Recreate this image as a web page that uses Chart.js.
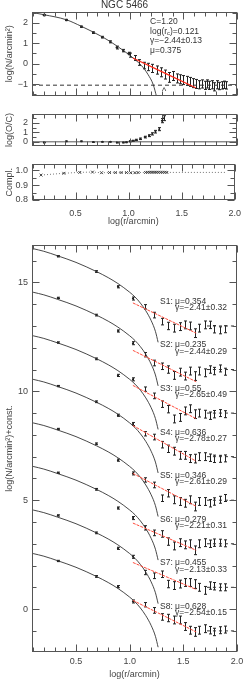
<!DOCTYPE html>
<html>
<head>
<meta charset="utf-8">
<title>NGC 5466</title>
<script src="https://cdn.jsdelivr.net/npm/chart.js@4.4.1/dist/chart.umd.min.js"></script>
<style>
  html, body { margin:0; padding:0; background:#fff; }
  #wrap { position:relative; width:249px; height:680px; overflow:hidden; }
  #wrap canvas { position:absolute; left:0; }
</style>
</head>
<body>
<div id="wrap">
  <canvas id="c_prof" width="249" height="105" style="top:0px"></canvas>
  <canvas id="c_oc" width="249" height="50" style="top:105px"></canvas>
  <canvas id="c_comp" width="249" height="72" style="top:155px"></canvas>
  <canvas id="c_sub" width="249" height="444" style="top:236px"></canvas>
</div>
<script>
// shared x axis: log(r/arcmin)
var X_MIN = 0.09, X_MAX = 2.0;
var xTicks = [0.5, 1.0, 1.5, 2.0];
var xTickLabels = ['0.5', '1.0', '1.5', '2.0'];

// ---- top panel: density profile of the whole cluster ----
var profTicks = [-1, 0, 1, 2];
var profTickLabels = ['\u22121', '0', '1', '2'];
var innerX   = [0.2, 0.41, 0.55, 0.66, 0.745, 0.82, 0.88, 0.94, 0.99];
var innerY   = [2.38, 2.14, 1.81, 1.52, 1.30, 1.07, 0.79, 0.64, 0.50];
var innerErr = [0.03, 0.03, 0.03, 0.04, 0.04, 0.05, 0.07, 0.06, 0.06];
var outerX   = [1.0, 1.05, 1.09, 1.13, 1.17, 1.21, 1.25, 1.29, 1.33, 1.37, 1.405, 1.44, 1.47, 1.5, 1.53,
                1.56, 1.59, 1.62, 1.65, 1.67, 1.7, 1.72, 1.74, 1.77, 1.79, 1.81, 1.83, 1.86, 1.88, 1.9];
var outerY   = [0.42, 0.28, 0.06, -0.09, -0.16, -0.23, -0.31, -0.42, -0.53, -0.67, -0.6, -0.72, -0.76, -0.8, -0.84,
                -0.89, -0.95, -0.99, -1.03, -0.99, -1.06, -0.99, -1.06, -1.03, -1.13, -1.03, -1.09, -1.06, -1.03, -1.06];
var outerErr = [0.1, 0.12, 0.14, 0.16, 0.18, 0.2, 0.2, 0.22, 0.22, 0.24, 0.22, 0.22, 0.22, 0.22, 0.22,
                0.22, 0.22, 0.22, 0.2, 0.2, 0.2, 0.2, 0.2, 0.2, 0.2, 0.2, 0.18, 0.18, 0.18, 0.18];
var kingTopX = [0.1, 0.2, 0.41, 0.55, 0.66, 0.75, 0.82, 0.88, 0.94, 1.0, 1.05, 1.11, 1.17, 1.22, 1.25];
var kingTopY = [2.5, 2.4, 2.15, 1.83, 1.55, 1.3, 1.08, 0.87, 0.65, 0.42, 0.2, -0.09, -0.52, -1.03, -1.6];
var fitTopX = [1.03, 1.615];
var fitTopY = [0.28, -1.18];
var bgTop = -1.05;
var rtTop = 1.32;

// ---- log(O/C) panel ----
var ocTicks = [0, 1, 2];
var ocTickLabels = ['0', '1', '2'];
var ocX   = [0.2, 0.41, 0.55, 0.66, 0.745, 0.82, 0.88, 0.94, 0.97, 1.0, 1.03, 1.06, 1.1, 1.14, 1.18, 1.21, 1.24, 1.275, 1.3, 1.32];
var ocY   = [-0.07, 0.05, 0.05, -0.03, 0.0, 0.0, -0.08, -0.07, -0.04, 0.05, 0.1, 0.2, 0.32, 0.5, 0.65, 0.84, 1.07, 1.34, 2.24, 2.5];
var ocErr = [0.03, 0.03, 0.03, 0.03, 0.03, 0.03, 0.04, 0.04, 0.05, 0.05, 0.06, 0.07, 0.08, 0.09, 0.1, 0.12, 0.14, 0.16, 0.22, 0.26];

// ---- completeness panel ----
var compTicks = [0.8, 0.9, 1.0];
var compTickLabels = ['0.8', '0.9', '1.0'];
var compX = [0.175, 0.39, 0.54, 0.66, 0.745, 0.82, 0.875, 0.93, 0.98, 1.02, 1.06, 1.09, 1.16, 1.18, 1.2,
             1.22, 1.24, 1.26, 1.28, 1.3, 1.32, 1.34, 1.36];
var compY = [0.968, 0.98, 0.986, 0.988, 0.984, 0.985, 0.985, 0.985, 0.985, 0.984, 0.984, 0.985, 0.986, 0.987, 0.987,
             0.987, 0.987, 0.987, 0.987, 0.987, 0.987, 0.987, 0.986];
var compEndX = 1.92, compEndY = 0.986;

// ---- lower panel: eight sub-samples, log(N)+const ----
var subTicks = [0, 5, 10, 15];
var subTickLabels = ['0', '5', '10', '15'];
var subNames  = ['S1', 'S2', 'S3', 'S4', 'S5', 'S6', 'S7', 'S8'];
var subMu     = ['0.354', '0.235', '0.55', '0.636', '0.346', '0.279', '0.455', '0.628'];
var subGamma  = ['\u22122.41\u00b10.32', '\u22122.44\u00b10.29', '\u22122.65\u00b10.49', '\u22122.78\u00b10.27',
                 '\u22122.61\u00b10.29', '\u22122.21\u00b10.31', '\u22122.13\u00b10.33', '\u22122.54\u00b10.15'];
var subConst  = [14, 12, 10, 8, 6, 4, 2, 0];
var subX   = [0.33, 0.69, 0.89, 1.03, 1.14, 1.23, 1.3, 1.36, 1.41, 1.47, 1.52, 1.56, 1.61, 1.65, 1.7, 1.75, 1.79, 1.84, 1.89];
var subErr = [0.03, 0.04, 0.05, 0.07, 0.1, 0.13, 0.15, 0.17, 0.18, 0.18, 0.18, 0.18, 0.2, 0.18, 0.18, 0.17, 0.17, 0.16, 0.16];
var subY = [
  [2.2, 1.5, 0.8, 0.26, -0.12, -0.5, -0.8, -1.0, -1.1, -1.03, -0.95, -1.0, -1.33, -1.1, -0.95, -0.95, -1.15, -1.2, -1.15],
  [2.29, 1.5, 0.77, 0.21, -0.32, -0.7, -0.85, -1.0, -1.27, -1.12, -1.3, -1.07, -1.3, -1.07, -1.15, -1.0, -1.07, -0.95, -1.1],
  [2.24, 1.49, 0.73, 0.55, 0.1, -0.21, -0.59, -0.82, -1.27, -1.2, -0.9, -0.8, -1.05, -1.0, -1.05, -1.12, -1.05, -1.0, -1.05],
  [2.24, 1.52, 0.9, 0.5, 0.05, -0.1, -0.45, -0.64, -0.75, -0.94, -0.94, -1.09, -1.09, -1.0, -1.0, -1.05, -1.1, -1.1, -1.08],
  [2.27, 1.59, 0.84, 0.23, -0.07, -0.3, -0.91, -0.68, -0.98, -1.06, -1.14, -0.98, -1.29, -1.06, -1.06, -1.14, -1.06, -0.98, -0.9],
  [2.26, 1.5, 0.64, 0.18, -0.27, -0.5, -0.55, -0.9, -1.1, -0.95, -1.05, -1.0, -1.3, -1.0, -0.95, -1.0, -0.95, -0.95, -0.98],
  [2.3, 1.5, 0.79, 0.4, -0.32, -0.47, -0.4, -0.85, -0.92, -0.85, -0.78, -0.78, -0.85, -1.0, -1.14, -0.92, -0.95, -1.0, -1.0],
  [2.21, 1.5, 1.03, 0.35, 0.2, -0.06, -0.36, -0.41, -0.5, -0.5, -0.8, -0.97, -1.05, -0.97, -0.9, -0.97, -1.05, -0.97, -0.94]
];
var subFitX = [1.03, 1.62];
var subFitY = [[0.06, -1.33], [-0.12, -1.56], [0.27, -1.26], [0.43, -1.21], [0.23, -1.28], [-0.05, -1.3], [0.14, -1.1], [0.4, -1.05]];
var kingX   = [0.1, 0.2, 0.33, 0.5, 0.69, 0.8, 0.89, 1.0, 1.05, 1.1, 1.15, 1.2, 1.24, 1.265];
var kingRel = [2.55, 2.43, 2.22, 1.92, 1.5, 1.22, 0.95, 0.55, 0.33, 0.05, -0.3, -0.75, -1.25, -1.75];
var subBg = -1.0;
var subBgX = [1.72, 1.99];

Chart.defaults.font.family = "'Liberation Sans', Arial, sans-serif";
Chart.defaults.font.size = 9;
Chart.defaults.color = '#444';
Chart.defaults.animation = false;

var FONT = "'Liberation Sans', Arial, sans-serif";

function pts(xs, ys, off){
  return xs.map(function(x, i){ return { x: x, y: ys[i] + (off || 0) }; });
}
function lineSet(data, color, width, dash){
  return { data: data, showLine: true, borderColor: color, borderWidth: width, borderDash: dash || [],
           pointRadius: 0, fill: false, cubicInterpolationMode: 'monotone' };
}
function pointSet(data, errs, r){
  return { data: data, showLine: false, pointRadius: r, pointStyle: 'circle',
           backgroundColor: '#222', borderColor: '#222', borderWidth: 0, errs: errs };
}

// frame + inward ticks on all four sides (IDL look)
var frame = {
  id: 'frame',
  afterDraw: function(chart, args, o){
    var ctx = chart.ctx, a = chart.chartArea, xs = chart.scales.x, ys = chart.scales.y;
    var L = Math.round(a.left) + 0.5, R = Math.round(a.right) - 0.5;
    var T = Math.round(a.top) + 0.5, B = Math.round(a.bottom) - 0.5;
    var i, v, p, len;
    ctx.save();
    ctx.strokeStyle = '#555';
    ctx.lineWidth = 1;
    ctx.strokeRect(L, T, R - L, B - T);
    ctx.beginPath();
    for(i = Math.ceil(xs.min / 0.1 - 1e-6); i * 0.1 <= xs.max + 1e-6; i++){
      p = Math.round(xs.getPixelForValue(i * 0.1)) + 0.5;
      len = (i % 5 === 0) ? 7 : 4;
      ctx.moveTo(p, B); ctx.lineTo(p, B - len);
      ctx.moveTo(p, T); ctx.lineTo(p, T + len);
    }
    for(i = Math.ceil(ys.min / o.minor - 1e-6); i * o.minor <= ys.max + 1e-6; i++){
      v = i * o.minor;
      p = Math.round(ys.getPixelForValue(v)) + 0.5;
      len = (Math.abs(v / o.major - Math.round(v / o.major)) < 1e-6) ? 7 : 4;
      ctx.moveTo(L, p); ctx.lineTo(L + len, p);
      ctx.moveTo(R, p); ctx.lineTo(R - len, p);
    }
    ctx.stroke();
    ctx.restore();
  }
};

// vertical error bars with small caps, taken from dataset.errs
var errorBars = {
  id: 'errorBars',
  beforeDatasetsDraw: function(chart){
    var ctx = chart.ctx, a = chart.chartArea, ys = chart.scales.y;
    ctx.save();
    ctx.beginPath();
    ctx.rect(a.left, a.top, a.right - a.left, a.bottom - a.top);
    ctx.clip();
    ctx.strokeStyle = '#222';
    ctx.lineWidth = 1;
    chart.data.datasets.forEach(function(ds, i){
      if(!ds.errs) return;
      var meta = chart.getDatasetMeta(i);
      meta.data.forEach(function(el, j){
        var v = ds.data[j].y, e = ds.errs[j];
        var x = Math.round(el.x) + 0.5;
        var y1 = ys.getPixelForValue(v + e), y2 = ys.getPixelForValue(v - e);
        ctx.beginPath();
        ctx.moveTo(x, y1); ctx.lineTo(x, y2);
        ctx.moveTo(x - 1.5, y1); ctx.lineTo(x + 1.5, y1);
        ctx.moveTo(x - 1.5, y2); ctx.lineTo(x + 1.5, y2);
        ctx.stroke();
      });
    });
    ctx.restore();
  }
};

// free text, placed in data units (or pixels with px/py)
var notes = {
  id: 'notes',
  afterDraw: function(chart, args, o){
    if(!o.items) return;
    var ctx = chart.ctx, xs = chart.scales.x, ys = chart.scales.y;
    ctx.save();
    ctx.fillStyle = '#333';
    ctx.textBaseline = 'middle';
    o.items.forEach(function(it){
      var x = it.px != null ? it.px : xs.getPixelForValue(it.x);
      var y = it.py != null ? it.py : ys.getPixelForValue(it.y);
      var size = it.size || 9;
      var parts = typeof it.text === 'string' ? [{ t: it.text }] : it.text;
      ctx.textAlign = it.align || 'left';
      parts.forEach(function(pt){
        var s = pt.sub ? size * 0.7 : size;
        ctx.font = s + 'px ' + FONT;
        ctx.fillText(pt.t, x, y + (pt.sub ? size * 0.3 : 0));
        x += ctx.measureText(pt.t).width;
      });
    });
    ctx.restore();
  }
};

function xScale(showLabels, h, pad){
  return {
    type: 'linear', min: X_MIN, max: X_MAX,
    grid: { display: false, drawTicks: false }, border: { display: false },
    afterBuildTicks: function(s){ s.ticks = xTicks.map(function(v){ return { value: v }; }); },
    ticks: { display: showLabels, padding: pad || 0, color: '#444', font: { size: 9 },
             maxRotation: 0, autoSkip: false,
             callback: function(v){ return xTickLabels[xTicks.indexOf(v)]; } },
    title: { display: showLabels, text: 'log(r/arcmin)', color: '#444', font: { size: 9 }, padding: { top: 2, bottom: 0 } },
    afterFit: function(s){ s.height = h; }
  };
}
function yScale(min, max, ticks, labels, title){
  return {
    type: 'linear', min: min, max: max,
    grid: { display: false, drawTicks: false }, border: { display: false },
    afterBuildTicks: function(s){ s.ticks = ticks.map(function(v){ return { value: v }; }); },
    ticks: { padding: 4, color: '#444', font: { size: 9 }, autoSkip: false,
             callback: function(v){ return labels[ticks.indexOf(v)]; } },
    title: { display: true, text: title, color: '#444', font: { size: 9 }, padding: { top: 4, bottom: 0 } },
    afterFit: function(s){ s.width = 32; }
  };
}
function baseOptions(scales, pad, frameOpts, noteItems){
  return {
    responsive: false, animation: false, events: [],
    layout: { padding: { left: 0, right: 12, top: pad.top, bottom: pad.bottom } },
    scales: scales,
    plugins: { legend: { display: false }, tooltip: { enabled: false }, title: { display: false },
               frame: frameOpts, notes: { items: noteItems || [] } }
  };
}

// --- top panel ---
new Chart(document.getElementById('c_prof'), {
  type: 'scatter',
  data: { datasets: [
    lineSet(pts(fitTopX, fitTopY), '#ff2a1a', 1.2),
    lineSet(pts(kingTopX, kingTopY), '#333', 0.9),
    lineSet([{ x: X_MIN, y: bgTop }, { x: X_MAX, y: bgTop }], '#333', 1, [4, 3]),
    pointSet(pts(innerX, innerY), innerErr, 1.2),
    pointSet(pts(outerX, outerY), outerErr, 0)
  ] },
  options: baseOptions(
    { x: xScale(false, 0), y: yScale(-1.56, 2.53, profTicks, profTickLabels, 'log(N/arcmin\u00b2)') },
    { top: 12, bottom: 0 },
    { major: 1, minor: 0.5 },
    [
      { px: 124.5, py: 5.5, text: 'NGC 5466', size: 10, align: 'center' },
      { x: 1.19, y: 2.06, text: 'C=1.20', size: 8.5 },
      { x: 1.19, y: 1.59, text: [{ t: 'log(r' }, { t: 'c', sub: true }, { t: ')=0.121' }], size: 8.5 },
      { x: 1.19, y: 1.11, text: '\u03b3=\u22122.44\u00b10.13', size: 8.5 },
      { x: 1.19, y: 0.64, text: '\u03bc=0.375', size: 8.5 },
      { x: rtTop, y: -1.38, text: '^', size: 9, align: 'center' }
    ]
  ),
  plugins: [frame, errorBars, notes]
});

// --- log(O/C) panel ---
new Chart(document.getElementById('c_oc'), {
  type: 'scatter',
  data: { datasets: [
    pointSet(pts(ocX, ocY), ocErr, 1),
    lineSet([{ x: X_MIN, y: 0 }, { x: X_MAX, y: 0 }], '#555', 1)
  ] },
  options: baseOptions(
    { x: xScale(false, 0), y: yScale(-0.4, 2.9, ocTicks, ocTickLabels, 'log(O/C)') },
    { top: 0, bottom: 0 },
    { major: 1, minor: 0.5 }
  ),
  plugins: [frame, errorBars, notes]
});

// --- completeness panel ---
var compLine = pts(compX, compY);
compLine.push({ x: compEndX, y: compEndY });
new Chart(document.getElementById('c_comp'), {
  type: 'scatter',
  data: { datasets: [
    { data: pts(compX, compY), showLine: false, pointStyle: 'crossRot', pointRadius: 2,
      borderColor: '#444', borderWidth: 1, backgroundColor: '#444' },
    lineSet(compLine, '#777', 1, [1, 2])
  ] },
  options: baseOptions(
    { x: xScale(true, 27, 8), y: yScale(0.8, 1.04, compTicks, compTickLabels, 'Compl.') },
    { top: 0, bottom: 0 },
    { major: 0.1, minor: 0.05 }
  ),
  plugins: [frame, errorBars, notes]
});

// --- sub-sample panel ---
var subSets = [], subNotes = [];
subNames.forEach(function(name, k){
  var off = subConst[k];
  subSets.push(lineSet(pts(subFitX, subFitY[k], off), '#ff4a3a', 1, [3, 1]));
  subSets.push(lineSet(pts(kingX, kingRel, off), '#333', 0.9));
  subSets.push(lineSet([{ x: subBgX[0], y: subBg + off }, { x: subBgX[1], y: subBg + off }], '#333', 1, [3, 3]));
  subSets.push(pointSet(pts(subX.slice(0, 4), subY[k].slice(0, 4), off), subErr.slice(0, 4), 1));
  subSets.push(pointSet(pts(subX.slice(4), subY[k].slice(4), off), subErr.slice(4), 0));
  subNotes.push({ x: 1.283, y: off + 0.12, text: name + ':', size: 8.5 });
  subNotes.push({ x: 1.423, y: off + 0.12, text: '\u03bc=' + subMu[k], size: 8.5 });
  subNotes.push({ x: 1.423, y: off - 0.17, text: '\u03b3=' + subGamma[k], size: 8.5 });
});
new Chart(document.getElementById('c_sub'), {
  type: 'scatter',
  data: { datasets: subSets },
  options: baseOptions(
    { x: xScale(true, 28, 4), y: yScale(-1.97, 16.7, subTicks, subTickLabels, 'log(N/arcmin\u00b2)+const.') },
    { top: 6, bottom: 0 },
    { major: 5, minor: 1 },
    subNotes
  ),
  plugins: [frame, errorBars, notes]
});
</script>
</body>
</html>
